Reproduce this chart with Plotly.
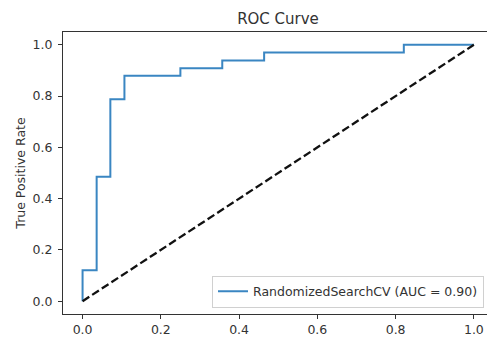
import plotly.graph_objects as go

# ROC curve data
fpr = [0.0, 0.0, 0.036, 0.036, 0.071, 0.071, 0.107, 0.107, 0.25, 0.25,
       0.357, 0.357, 0.464, 0.464, 0.821, 0.821, 1.0]
tpr = [0.0, 0.121, 0.121, 0.485, 0.485, 0.788, 0.788, 0.879, 0.879, 0.909,
       0.909, 0.939, 0.939, 0.970, 0.970, 1.0, 1.0]
chance_x = [0.0, 1.0]
chance_y = [0.0, 1.0]
tick_vals = [0.0, 0.2, 0.4, 0.6, 0.8, 1.0]
tick_text = ["0.0", "0.2", "0.4", "0.6", "0.8", "1.0"]
series_name = "RandomizedSearchCV (AUC = 0.90)"

FONT = "DejaVu Sans"
TXT = "#333333"

fig = go.Figure()
fig.add_trace(go.Scatter(
    x=fpr, y=tpr, mode="lines", name=series_name,
    line=dict(color="#3a86c2", width=2),
))
fig.add_trace(go.Scatter(
    x=chance_x, y=chance_y, mode="lines", showlegend=False,
    line=dict(color="#111111", width=2.3, dash="8px,3.5px"),
))

L, T, B = 63, 31.5, 23.2
W, H = 487, 337

fig.update_layout(
    width=W, height=H,
    margin=dict(l=L, r=0, t=T, b=B, pad=0),
    paper_bgcolor="white", plot_bgcolor="white",
    font=dict(family=FONT, size=12.5, color=TXT),
    title=dict(text="ROC Curve", x=278 / W, xref="container", xanchor="center",
               y=1 - 19 / H, yref="container", yanchor="middle",
               font=dict(family=FONT, size=15, color=TXT)),
    showlegend=True,
    legend=dict(
        x=(484 - L) / (W - L), xanchor="right",
        y=(H - B - 307.3) / (H - B - T), yanchor="bottom",
        bgcolor="rgba(255,255,255,0.8)", bordercolor="#d0d0d0", borderwidth=1,
        font=dict(family=FONT, size=12.5, color=TXT),
        itemwidth=30,
    ),
    xaxis=dict(
        range=[-0.05, -0.05 + (W - L) / 391.3], tickvals=tick_vals, ticktext=tick_text,
        showgrid=False, zeroline=False,
        showline=True, linecolor="#333333", linewidth=1, mirror=True,
        ticks="outside", ticklen=4, tickwidth=1, tickcolor="#333333",
        tickfont=dict(family=FONT, size=12.5, color=TXT),
    ),
    yaxis=dict(
        range=[-0.05, 1.05], tickvals=tick_vals, ticktext=tick_text,
        showgrid=False, zeroline=False,
        showline=True, linecolor="#333333", linewidth=1, mirror=False,
        ticks="outside", ticklen=4, tickwidth=1, tickcolor="#333333",
        tickfont=dict(family=FONT, size=12.5, color=TXT),
        ticklabelstandoff=3,
        title=dict(text="True Positive Rate", standoff=4,
                   font=dict(family=FONT, size=12.5, color=TXT)),
    ),
)

fig.write_html("out.html")
